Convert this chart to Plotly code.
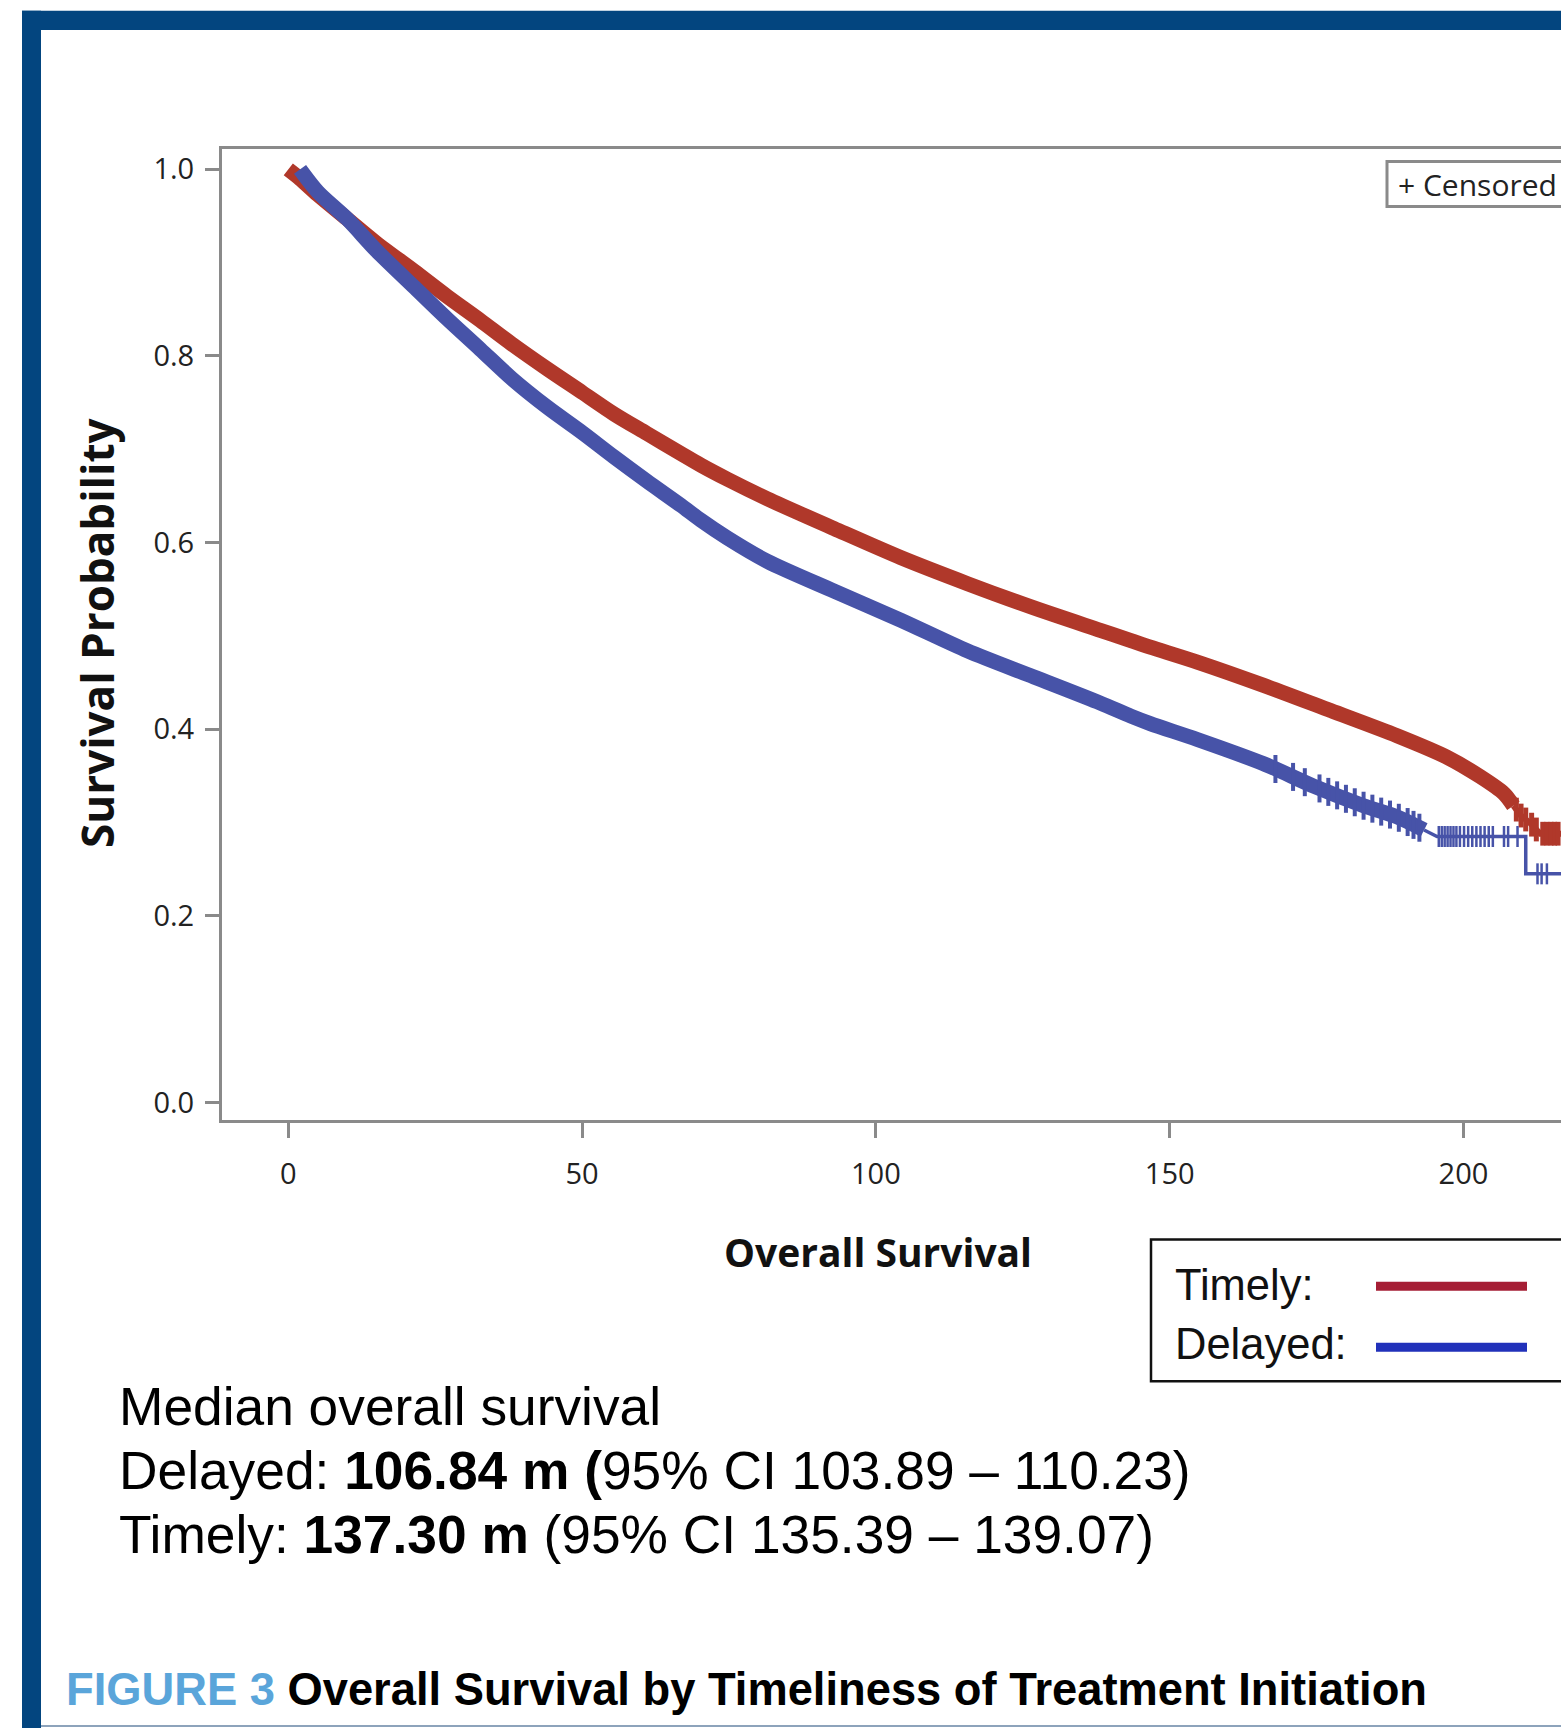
import numpy as np
import plotly.graph_objects as go

# ---------------- data ----------------
timely_t = [0, 2, 5, 10, 15, 21.4, 27, 32.7, 38, 44.1, 50, 55.4, 61, 66.8, 70.2, 74.7,
            81.5, 92.9, 104.2, 115.6, 126.9, 138.2, 143.4, 146.7, 154.7, 166.0, 177.4,
            188.7, 197.2, 202.9, 206.9, 208.5, 209.7, 211.4, 213.1, 220]
timely_s = [1.0, 0.99, 0.973, 0.947, 0.921, 0.891, 0.864, 0.838, 0.813, 0.786, 0.761,
            0.738, 0.717, 0.6955, 0.683, 0.668, 0.647, 0.615, 0.584, 0.556, 0.530, 0.506,
            0.495, 0.488, 0.472, 0.447, 0.420, 0.393, 0.370, 0.349, 0.331, 0.318, 0.308,
            0.299, 0.288, 0.288]
timely_censor_t = [209.0, 209.8, 210.6, 211.6, 212.4, 213.5, 214.2, 214.9, 215.5, 216.1]

delayed_t = [2.0, 5, 10, 15, 21.4, 27, 32.7, 38, 44.1, 50, 55.4, 61, 66.8, 70.2, 74.7,
             81.5, 92.9, 104.2, 115.6, 126.9, 138.2, 143.4, 146.7, 154.7, 166.0, 174.5,
             183.0, 188.7, 193.3, 195.5, 210.6, 210.6, 220]
delayed_s = [1.0, 0.976, 0.947, 0.913, 0.874, 0.840, 0.807, 0.776, 0.745, 0.718, 0.692,
             0.666, 0.640, 0.624, 0.605, 0.580, 0.548, 0.517, 0.484, 0.456, 0.428, 0.414,
             0.406, 0.389, 0.363, 0.339, 0.318, 0.306, 0.292, 0.285, 0.285, 0.245, 0.245]
delayed_censor_band_t = [168, 171, 173, 175.5, 177, 178.5, 180, 181.5, 183, 184.5, 186,
                         187.5, 189, 190.5, 191.5, 192.5]
delayed_censor_tail_t = [195.8, 196.3, 196.8, 197.3, 197.8, 198.3, 198.8, 199.4, 200.1,
                         200.8, 201.5, 202.2, 202.9, 203.6, 204.3, 205.0, 206.9, 207.6,
                         209.2, 212.6, 213.3, 214.2]

x_ticks = [0, 50, 100, 150, 200]
y_ticks = [0.0, 0.2, 0.4, 0.6, 0.8, 1.0]

group_labels = ["Timely:", "Delayed:"]
median_lines = [
    "Median overall survival",
    "Delayed: <b>106.84 m (</b>95% CI 103.89 \u2013 110.23)",
    "Timely: <b>137.30 m</b> (95% CI 135.39 \u2013 139.07)",
]
fig_label = "FIGURE 3"
fig_title = "Overall Survival by Timeliness of Treatment Initiation"

# ---------------- styles ----------------
RED = "#B0382A"
BLUE = "#4753A8"
LEG_RED = "#A51E35"
LEG_BLUE = "#2131BA"
FRAME = "#03457F"
AXIS = "#8A8A8A"

W, H = 1561, 1728
PL, PR, PT, PB = 222, 1561, 148.5, 1120.5


def px(x):
    return (x - PL) / (PR - PL)


def py(y):
    return (PB - y) / (PB - PT)


def interp(ts, t_arr, s_arr):
    return list(np.interp(ts, t_arr, s_arr))


fig = go.Figure()

# Timely
tt = np.array(timely_t)
ts = np.array(timely_s)
mask = tt <= 208.5
fig.add_trace(go.Scatter(x=tt[mask], y=ts[mask], mode="lines",
                         line=dict(color=RED, width=15, shape="spline", smoothing=0.8),
                         showlegend=False, hoverinfo="skip"))
mask = tt >= 208.5
fig.add_trace(go.Scatter(x=tt[mask], y=ts[mask], mode="lines",
                         line=dict(color=RED, width=6), showlegend=False, hoverinfo="skip"))
fig.add_trace(go.Scatter(x=timely_censor_t, y=interp(timely_censor_t, timely_t, timely_s),
                         mode="markers",
                         marker=dict(symbol="line-ns", size=17, line=dict(color=RED, width=5)),
                         showlegend=False, hoverinfo="skip"))

# Delayed
dt = np.array(delayed_t)
ds = np.array(delayed_s)
mask = dt <= 193.3
fig.add_trace(go.Scatter(x=dt[mask], y=ds[mask], mode="lines",
                         line=dict(color=BLUE, width=15, shape="spline", smoothing=0.8),
                         showlegend=False, hoverinfo="skip"))
mask = dt >= 193.3
fig.add_trace(go.Scatter(x=dt[mask], y=ds[mask], mode="lines",
                         line=dict(color=BLUE, width=3.5), showlegend=False, hoverinfo="skip"))
fig.add_trace(go.Scatter(x=delayed_censor_band_t,
                         y=interp(delayed_censor_band_t, delayed_t[:29], delayed_s[:29]),
                         mode="markers",
                         marker=dict(symbol="line-ns", size=20, line=dict(color=BLUE, width=4)),
                         showlegend=False, hoverinfo="skip"))
tail_y = [delayed_s[29] if t < delayed_t[30] else delayed_s[31] for t in delayed_censor_tail_t]
fig.add_trace(go.Scatter(x=delayed_censor_tail_t, y=tail_y, mode="markers",
                         marker=dict(symbol="line-ns", size=15, line=dict(color=BLUE, width=2.5)),
                         showlegend=False, hoverinfo="skip"))

shapes = []
# blue frame
shapes.append(dict(type="rect", xref="paper", yref="paper", x0=px(22), x1=px(1600),
                   y0=py(29.5), y1=py(10), fillcolor=FRAME, line=dict(width=0), layer="above"))
shapes.append(dict(type="rect", xref="paper", yref="paper", x0=px(22), x1=px(41),
                   y0=py(1740), y1=py(10), fillcolor=FRAME, line=dict(width=0), layer="above"))
shapes.append(dict(type="line", xref="paper", yref="paper", x0=px(41), x1=px(1600),
                   y0=py(1727), y1=py(1727), line=dict(color="#8DA3BB", width=2)))
# censored box
shapes.append(dict(type="rect", xref="paper", yref="paper", x0=px(1387), x1=px(1600),
                   y0=py(206), y1=py(161), fillcolor="white", line=dict(color=AXIS, width=3)))
# legend box
shapes.append(dict(type="rect", xref="paper", yref="paper", x0=px(1151), x1=px(1600),
                   y0=py(1382), y1=py(1240), fillcolor="white", line=dict(color="#111111", width=2.5)))
shapes.append(dict(type="line", xref="paper", yref="paper", x0=px(1376), x1=px(1527),
                   y0=py(1287), y1=py(1287), line=dict(color=LEG_RED, width=9)))
shapes.append(dict(type="line", xref="paper", yref="paper", x0=px(1376), x1=px(1527),
                   y0=py(1348), y1=py(1348), line=dict(color=LEG_BLUE, width=9)))

ann = []
ann.append(dict(text="+ Censored", x=px(1396), y=py(184), xref="paper", yref="paper",
                xanchor="left", yanchor="middle", showarrow=False,
                font=dict(family="Open Sans", size=30, color="#222222")))
ann.append(dict(text=group_labels[0], x=px(1173), y=py(1286), xref="paper", yref="paper",
                xanchor="left", yanchor="middle", showarrow=False,
                font=dict(family="Liberation Sans", size=43.5, color="#111111")))
ann.append(dict(text=group_labels[1], x=px(1173), y=py(1345), xref="paper", yref="paper",
                xanchor="left", yanchor="middle", showarrow=False,
                font=dict(family="Liberation Sans", size=43.5, color="#111111")))
ann.append(dict(text="<b>Overall Survival</b>", x=px(878), y=py(1252), xref="paper", yref="paper",
                xanchor="center", yanchor="middle", showarrow=False,
                font=dict(family="Open Sans", size=39, color="#111111")))
ann.append(dict(text="<b>Survival Probability</b>", x=px(97), y=py(633), xref="paper", yref="paper",
                xanchor="center", yanchor="middle", showarrow=False, textangle=-90,
                font=dict(family="Open Sans", size=44, color="#111111")))
for i, (line, yc) in enumerate(zip(median_lines, [1407, 1471, 1535])):
    ann.append(dict(text=line, x=px(117), y=py(yc), xref="paper", yref="paper",
                    xanchor="left", yanchor="middle", showarrow=False,
                    font=dict(family="Liberation Sans", size=53.3, color="#000000")))
ann.append(dict(text="<span style='color:#5AA5DA'>" + fig_label + "</span> " + fig_title,
                x=px(64), y=py(1691), xref="paper", yref="paper", xanchor="left",
                yanchor="middle", showarrow=False,
                font=dict(family="Liberation Sans", size=45.3, color="#000000", weight="bold")))

fig.update_layout(
    width=W, height=H,
    margin=dict(l=PL, r=W - PR, t=PT, b=H - PB, pad=0),
    paper_bgcolor="white", plot_bgcolor="white",
    shapes=shapes, annotations=ann, showlegend=False,
    xaxis=dict(range=[-11.28, 216.6], tickvals=x_ticks, ticktext=[str(v) for v in x_ticks],
               showgrid=False, zeroline=False, showline=True, linecolor=AXIS, linewidth=3,
               mirror=True, ticks="outside", ticklen=15, tickwidth=3, tickcolor=AXIS,
               ticklabelstandoff=11,
               tickfont=dict(family="Open Sans", size=29, color="#222222")),
    yaxis=dict(range=[-0.0188, 1.0218], tickvals=y_ticks, ticktext=[f"{v:.1f}" for v in y_ticks],
               showgrid=False, zeroline=False, showline=True, linecolor=AXIS, linewidth=3,
               ticks="outside", ticklen=14, tickwidth=3, tickcolor=AXIS,
               ticklabelstandoff=5,
               tickfont=dict(family="Open Sans", size=29, color="#222222")),
)

fig.write_html("out.html", config={"displayModeBar": False},
               post_script="document.body.style.margin='0';document.body.style.overflow='hidden';")
